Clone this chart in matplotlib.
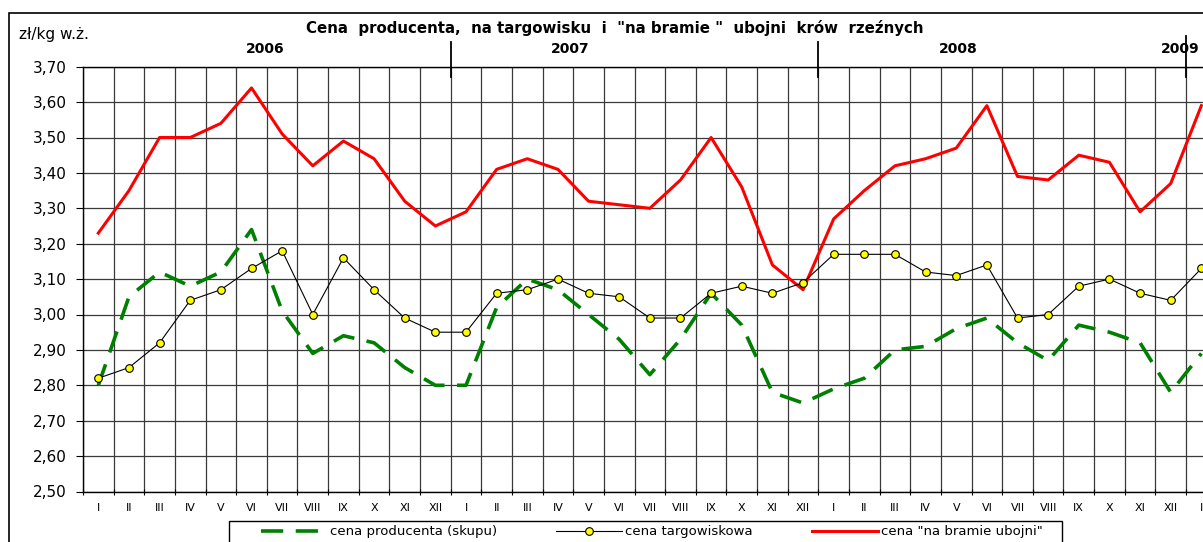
import numpy as np
import matplotlib
matplotlib.use('Agg')
import matplotlib.pyplot as plt
from matplotlib.patches import Rectangle
from matplotlib.transforms import blended_transform_factory

# months 2006-I ... 2009-I
months = ['I', 'II', 'III', 'IV', 'V', 'VI', 'VII', 'VIII', 'IX', 'X', 'XI', 'XII'] * 3 + ['I']
years = ['2006', '2007', '2008', '2009']
year_pos = [5.45, 15.4, 28.05, 35.3]     # where the year labels sit (in month index units)
year_breaks = [11.5, 23.5, 35.5]

# zl/kg w.z.
skup = [2.80, 3.05, 3.12, 3.08, 3.12, 3.24, 3.01, 2.89, 2.94, 2.92, 2.85, 2.80,
        2.80, 3.02, 3.10, 3.07, 3.00, 2.93, 2.83, 2.93, 3.06, 2.97, 2.78, 2.75,
        2.79, 2.82, 2.90, 2.91, 2.96, 2.99, 2.92, 2.87, 2.97, 2.95, 2.92, 2.78,
        2.89]
targ = [2.82, 2.85, 2.92, 3.04, 3.07, 3.13, 3.18, 3.00, 3.16, 3.07, 2.99, 2.95,
        2.95, 3.06, 3.07, 3.10, 3.06, 3.05, 2.99, 2.99, 3.06, 3.08, 3.06, 3.09,
        3.17, 3.17, 3.17, 3.12, 3.11, 3.14, 2.99, 3.00, 3.08, 3.10, 3.06, 3.04,
        3.13]
bramie = [3.23, 3.35, 3.50, 3.50, 3.54, 3.64, 3.51, 3.42, 3.49, 3.44, 3.32, 3.25,
          3.29, 3.41, 3.44, 3.41, 3.32, 3.31, 3.30, 3.38, 3.50, 3.36, 3.14, 3.07,
          3.27, 3.35, 3.42, 3.44, 3.47, 3.59, 3.39, 3.38, 3.45, 3.43, 3.29, 3.37,
          3.59]

labels = ['cena producenta (skupu)', 'cena targowiskowa', 'cena "na bramie ubojni"']

plt.rcParams['lines.scale_dashes'] = False

W, H = 1203, 542
fig = plt.figure(figsize=(W / 100, H / 100), dpi=100)

# plot area in pixels: left 83, top 67, bottom 491.5, a cell is ~30.64 px wide
ax = fig.add_axes([83 / W, 50.5 / H, 37 * 30.64 / W, 424.8 / H])

x = np.arange(len(months))
ax.plot(x, skup, color='#008000', lw=2.6, dashes=(16, 9), label=labels[0], zorder=3)
ax.plot(x, targ, color='black', lw=0.8, marker='o', ms=5.5, mfc='#ffff00',
        mec='black', mew=0.8, label=labels[1], zorder=4)
ax.plot(x, bramie, color='#ff0000', lw=2.2, label=labels[2], zorder=3)

ax.set_xlim(-0.5, len(months) - 0.5)
ax.set_ylim(2.5, 3.7)

ax.set_xticks(x)
ax.set_xticklabels(months, fontsize=8)
ax.set_xticks(np.arange(-0.5, len(months), 1.0), minor=True)
ax.tick_params(axis='x', which='major', length=0, pad=8)
ax.tick_params(axis='x', which='minor', direction='inout', length=5, width=0.8)

yt = np.round(np.arange(2.5, 3.71, 0.1), 2)
ax.set_yticks(yt)
ax.set_yticklabels([('%.2f' % v).replace('.', ',') for v in yt], fontsize=11)
ax.tick_params(axis='y', direction='out', length=5, width=0.8, pad=7)

ax.grid(True, which='minor', axis='x', color='#3a3a3a', lw=0.9)
ax.grid(True, which='major', axis='y', color='#3a3a3a', lw=0.9)
ax.set_axisbelow(True)
for s in ax.spines.values():
    s.set_color('black')
    s.set_linewidth(1.0)

# year labels and separators above the plot
trans = blended_transform_factory(ax.transData, fig.transFigure)
for name, pos in zip(years, year_pos):
    ax.text(pos, 1 - 49 / H, name, transform=trans, fontsize=10, fontweight='bold',
            ha='center', va='center', clip_on=False)
for i, b in enumerate(year_breaks):
    top = 36 if i == 2 else 42
    ax.plot([b, b], [1 - top / H, 1 - 77 / H], transform=trans, color='black',
            lw=1.3, clip_on=False, zorder=5)

fig.text(615 / W, 1 - 28 / H,
         'Cena  producenta,  na targowisku  i  "na bramie "  ubojni  krów  rzeźnych',
         fontsize=10.8, fontweight='bold', ha='center', va='center')
fig.text(19 / W, 1 - 35 / H, 'zł/kg w.ż.', fontsize=11, ha='left', va='center')

# outer chart frame (cut off at right and bottom)
fig.add_artist(Rectangle((9 / W, -0.1), 1.2, 1 - 12.7 / H + 0.1, transform=fig.transFigure,
                         fill=False, ec='black', lw=1.2))
# legend frame
fig.add_artist(Rectangle((229 / W, -0.1), (1062 - 229) / W, 0.1 + 1 - 521 / H,
                         transform=fig.transFigure, fill=False, ec='black', lw=1.0))

leg = fig.legend(loc='center left', bbox_to_anchor=(261 / W, 1 - 532 / H), ncol=3,
                 frameon=False, fontsize=9.5, handlelength=5.0, handletextpad=0.25,
                 columnspacing=4.45, borderpad=0, borderaxespad=0, numpoints=1)

fig.savefig('out.png', dpi=100)
